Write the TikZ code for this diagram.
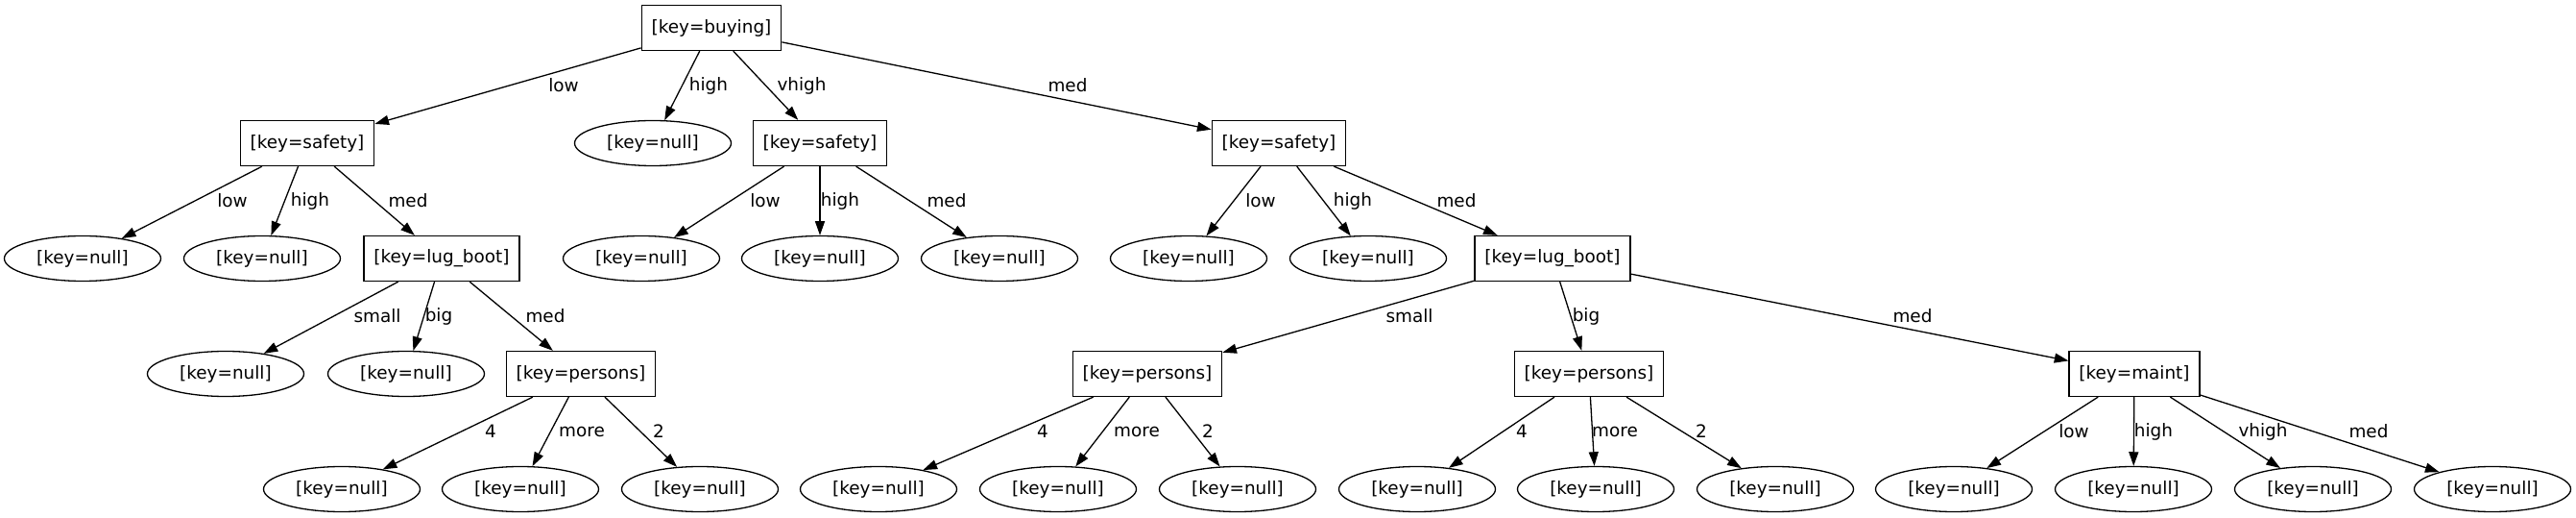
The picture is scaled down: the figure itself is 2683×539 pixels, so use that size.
\documentclass[tikz,border=0pt]{standalone}
\usepackage{fontspec}
\setmainfont{DejaVu Sans}
\usetikzlibrary{shapes.geometric,arrows.meta}
\begin{document}
\begin{tikzpicture}[x=0.5pt,y=-0.5pt,
  txt/.style={font=\fontsize{9.2pt}{11pt}\selectfont},
  box/.style={txt, draw, rectangle, line width=0.65pt, minimum height=23.5pt, inner xsep=5.2pt, inner ysep=0pt},
  leaf/.style={txt, draw, ellipse, line width=0.65pt, minimum width=81.5pt, minimum height=23.5pt, inner sep=0pt},
  lbl/.style={txt, inner sep=0pt},
  edge/.style={line width=0.65pt, -{Triangle[length=7.3pt,width=5pt]}}]
\useasboundingbox (0,0) rectangle (2683,539);
% level 0
\node[box] (b0) at (741,29) {[key=buying]};
% level 1
\node[box] (s1) at (320,149) {[key=safety]};
\node[leaf] (n1) at (680,149) {[key=null]};
\node[box] (s2) at (854,149) {[key=safety]};
\node[box] (s3) at (1332,149) {[key=safety]};
% level 2
\node[leaf] (n2a) at (86,269) {[key=null]};
\node[leaf] (n2b) at (273,269) {[key=null]};
\node[box] (l1) at (460,269) {[key=lug\_boot]};
\node[leaf] (n2c) at (668,269) {[key=null]};
\node[leaf] (n2d) at (854,269) {[key=null]};
\node[leaf] (n2e) at (1041,269) {[key=null]};
\node[leaf] (n2f) at (1238,269) {[key=null]};
\node[leaf] (n2g) at (1425,269) {[key=null]};
\node[box] (l2) at (1617,269) {[key=lug\_boot]};
% level 3
\node[leaf] (n3a) at (235,389) {[key=null]};
\node[leaf] (n3b) at (423,389) {[key=null]};
\node[box] (p1) at (605,389) {[key=persons]};
\node[box] (p2) at (1195,389) {[key=persons]};
\node[box] (p3) at (1655,389) {[key=persons]};
\node[box] (m) at (2223,389) {[key=maint]};
% level 4
\node[leaf] (n4a) at (356,509) {[key=null]};
\node[leaf] (n4b) at (542,509) {[key=null]};
\node[leaf] (n4c) at (729,509) {[key=null]};
\node[leaf] (n4d) at (915,509) {[key=null]};
\node[leaf] (n4e) at (1102,509) {[key=null]};
\node[leaf] (n4f) at (1289,509) {[key=null]};
\node[leaf] (n4g) at (1476,509) {[key=null]};
\node[leaf] (n4h) at (1662,509) {[key=null]};
\node[leaf] (n4i) at (1849,509) {[key=null]};
\node[leaf] (n4j) at (2035,509) {[key=null]};
\node[leaf] (n4k) at (2222,509) {[key=null]};
\node[leaf] (n4l) at (2409,509) {[key=null]};
\node[leaf] (n4m) at (2596,509) {[key=null]};
% edges
\draw[edge] (b0) -- (s1);
\draw[edge] (b0) -- (n1);
\draw[edge] (b0) -- (s2);
\draw[edge] (b0) -- (s3);
\draw[edge] (s1) -- (n2a);
\draw[edge] (s1) -- (n2b);
\draw[edge] (s1) -- (l1);
\draw[edge] (s2) -- (n2c);
\draw[edge] (s2) -- (n2d);
\draw[edge] (s2) -- (n2e);
\draw[edge] (s3) -- (n2f);
\draw[edge] (s3) -- (n2g);
\draw[edge] (s3) -- (l2);
\draw[edge] (l1) -- (n3a);
\draw[edge] (l1) -- (n3b);
\draw[edge] (l1) -- (p1);
\draw[edge] (l2) -- (p2);
\draw[edge] (l2) -- (p3);
\draw[edge] (l2) -- (m);
\draw[edge] (p1) -- (n4a);
\draw[edge] (p1) -- (n4b);
\draw[edge] (p1) -- (n4c);
\draw[edge] (p2) -- (n4d);
\draw[edge] (p2) -- (n4e);
\draw[edge] (p2) -- (n4f);
\draw[edge] (p3) -- (n4g);
\draw[edge] (p3) -- (n4h);
\draw[edge] (p3) -- (n4i);
\draw[edge] (m) -- (n4j);
\draw[edge] (m) -- (n4k);
\draw[edge] (m) -- (n4l);
\draw[edge] (m) -- (n4m);
% edge labels
\node[lbl] (e1) at (587,89) {low};
\node[lbl] (e2) at (738,89) {high};
\node[lbl] (e3) at (835,89) {vhigh};
\node[lbl] (e4) at (1112,89) {med};
\node[lbl] (e5) at (242,209) {low};
\node[lbl] (e6) at (323,209) {high};
\node[lbl] (e7) at (425,209) {med};
\node[lbl] (e8) at (797,209) {low};
\node[lbl] (e9) at (875,209) {high};
\node[lbl] (e10) at (986,209) {med};
\node[lbl] (e11) at (1313,209) {low};
\node[lbl] (e12) at (1409,209) {high};
\node[lbl] (e13) at (1517,209) {med};
\node[lbl] (e14) at (393,329) {small};
\node[lbl] (e15) at (457,329) {big};
\node[lbl] (e16) at (568,329) {med};
\node[lbl] (e17) at (1468,329) {small};
\node[lbl] (e18) at (1652,329) {big};
\node[lbl] (e19) at (1992,329) {med};
\node[lbl] (e20) at (511,449) {4};
\node[lbl] (e21) at (606,449) {more};
\node[lbl] (e22) at (686,449) {2};
\node[lbl] (e23) at (1086,449) {4};
\node[lbl] (e24) at (1184,449) {more};
\node[lbl] (e25) at (1258,449) {2};
\node[lbl] (e26) at (1585,449) {4};
\node[lbl] (e27) at (1682,449) {more};
\node[lbl] (e28) at (1772,449) {2};
\node[lbl] (e29) at (2160,449) {low};
\node[lbl] (e30) at (2243,449) {high};
\node[lbl] (e31) at (2357,449) {vhigh};
\node[lbl] (e32) at (2467,449) {med};
\end{tikzpicture}
\end{document}
